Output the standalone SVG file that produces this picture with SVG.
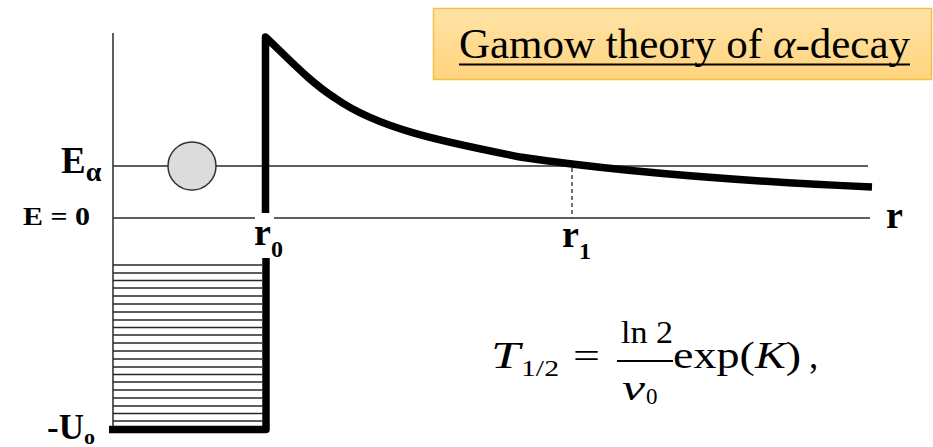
<svg xmlns="http://www.w3.org/2000/svg" width="933" height="447" viewBox="0 0 933 447">
<defs>
<linearGradient id="tg" x1="0" y1="0" x2="0" y2="1">
<stop offset="0" stop-color="#FFE3A6"/>
<stop offset="1" stop-color="#FFD47E"/>
</linearGradient>
<style>
.thin{stroke:#2a2a2a;stroke-width:1.5;fill:none}
.hatch{stroke:#262626;stroke-width:1.6;fill:none}
.thick{stroke:#000;stroke-width:7.5;fill:none;stroke-linejoin:round}
.lbl{font-family:"Liberation Serif","Times New Roman",serif;font-weight:bold;fill:#000}
.math{font-family:"Liberation Serif","Times New Roman",serif;fill:#000}
</style>
</defs>
<rect width="933" height="447" fill="#fff"/>
<g id="title">
<rect x="433.5" y="8.5" width="498" height="71" fill="url(#tg)" stroke="#F2C14A" stroke-width="1.5"/>
<text x="459" y="58" class="math" font-size="43" textLength="451" lengthAdjust="spacingAndGlyphs">Gamow theory of <tspan font-style="italic">α</tspan>-decay</text>
<line x1="459" y1="64.5" x2="910" y2="64.5" stroke="#000" stroke-width="2"/>
</g>
<g id="connectors">
<line class="thin" x1="113" y1="33" x2="113" y2="427"/>
<line class="thin" x1="113" y1="166" x2="868" y2="166"/>
<line class="thin" x1="113" y1="218" x2="255" y2="218"/>
<line class="thin" x1="274" y1="218" x2="870" y2="218"/>
<line x1="572" y1="168" x2="572" y2="218" stroke="#444" stroke-width="1.5" stroke-dasharray="4,3"/>
</g>
<g id="well">
<g class="hatch">
<line x1="113" y1="265" x2="262" y2="265"/>
<line x1="113" y1="273" x2="262" y2="273"/>
<line x1="113" y1="280.5" x2="262" y2="280.5"/>
<line x1="113" y1="288" x2="262" y2="288"/>
<line x1="113" y1="296" x2="262" y2="296"/>
<line x1="113" y1="304" x2="262" y2="304"/>
<line x1="113" y1="312" x2="262" y2="312"/>
<line x1="113" y1="320" x2="262" y2="320"/>
<line x1="113" y1="327.5" x2="262" y2="327.5"/>
<line x1="113" y1="335" x2="262" y2="335"/>
<line x1="113" y1="343" x2="262" y2="343"/>
<line x1="113" y1="351" x2="262" y2="351"/>
<line x1="113" y1="359" x2="262" y2="359"/>
<line x1="113" y1="367" x2="262" y2="367"/>
<line x1="113" y1="374.5" x2="262" y2="374.5"/>
<line x1="113" y1="382" x2="262" y2="382"/>
<line x1="113" y1="390" x2="262" y2="390"/>
<line x1="113" y1="398" x2="262" y2="398"/>
<line x1="113" y1="406" x2="262" y2="406"/>
<line x1="113" y1="413.5" x2="262" y2="413.5"/>
<line x1="113" y1="421" x2="262" y2="421"/>
</g>
<path class="thick" d="M109,429.5 H266 V258" stroke-linejoin="miter"/>
</g>
<g id="barrier">
<path class="thick" d="M265.5,213 V37 C290,60 310,82 335,98 C380,130 450,143 520,157 C620,172 740,181 872,187"/>
</g>
<g id="particle">
<circle cx="192" cy="166" r="24" fill="#dcdcdc" stroke="#333" stroke-width="1.5"/>
</g>
<g id="labels">
<text x="61" y="173" class="lbl" font-size="37">E<tspan font-size="28" dy="8">α</tspan></text>
<text x="23" y="225" class="lbl" font-size="25" textLength="67" lengthAdjust="spacingAndGlyphs">E = 0</text>
<text x="254" y="245" class="lbl" font-size="38">r<tspan font-size="24" dy="12">0</tspan></text>
<text x="562" y="247" class="lbl" font-size="38">r<tspan font-size="24" dy="12">1</tspan></text>
<text x="886" y="228" class="lbl" font-size="38">r</text>
<text x="47" y="439" class="lbl" font-size="35">-U<tspan font-size="22" dy="5">o</tspan></text>
</g>
<g id="formula">
<text x="491" y="368" class="math" font-size="37" font-style="italic" textLength="29" lengthAdjust="spacingAndGlyphs">T</text>
<text x="521" y="376" class="math" font-size="23" textLength="38" lengthAdjust="spacingAndGlyphs">1/2</text>
<text x="573" y="368" class="math" font-size="36" textLength="27" lengthAdjust="spacingAndGlyphs">=</text>
<text x="621" y="343" class="math" font-size="32" textLength="52" lengthAdjust="spacingAndGlyphs">ln 2</text>
<line x1="617" y1="361" x2="673" y2="361" stroke="#000" stroke-width="1.8"/>
<text x="622" y="400" class="math" font-size="35" font-style="italic" textLength="23" lengthAdjust="spacingAndGlyphs">ν</text>
<text x="646" y="404" class="math" font-size="23">0</text>
<text x="673" y="368" class="math" font-size="37" textLength="128" lengthAdjust="spacingAndGlyphs">exp(<tspan font-style="italic">K</tspan>)</text>
<text x="809" y="368" class="math" font-size="37">,</text>
</g>
</svg>
